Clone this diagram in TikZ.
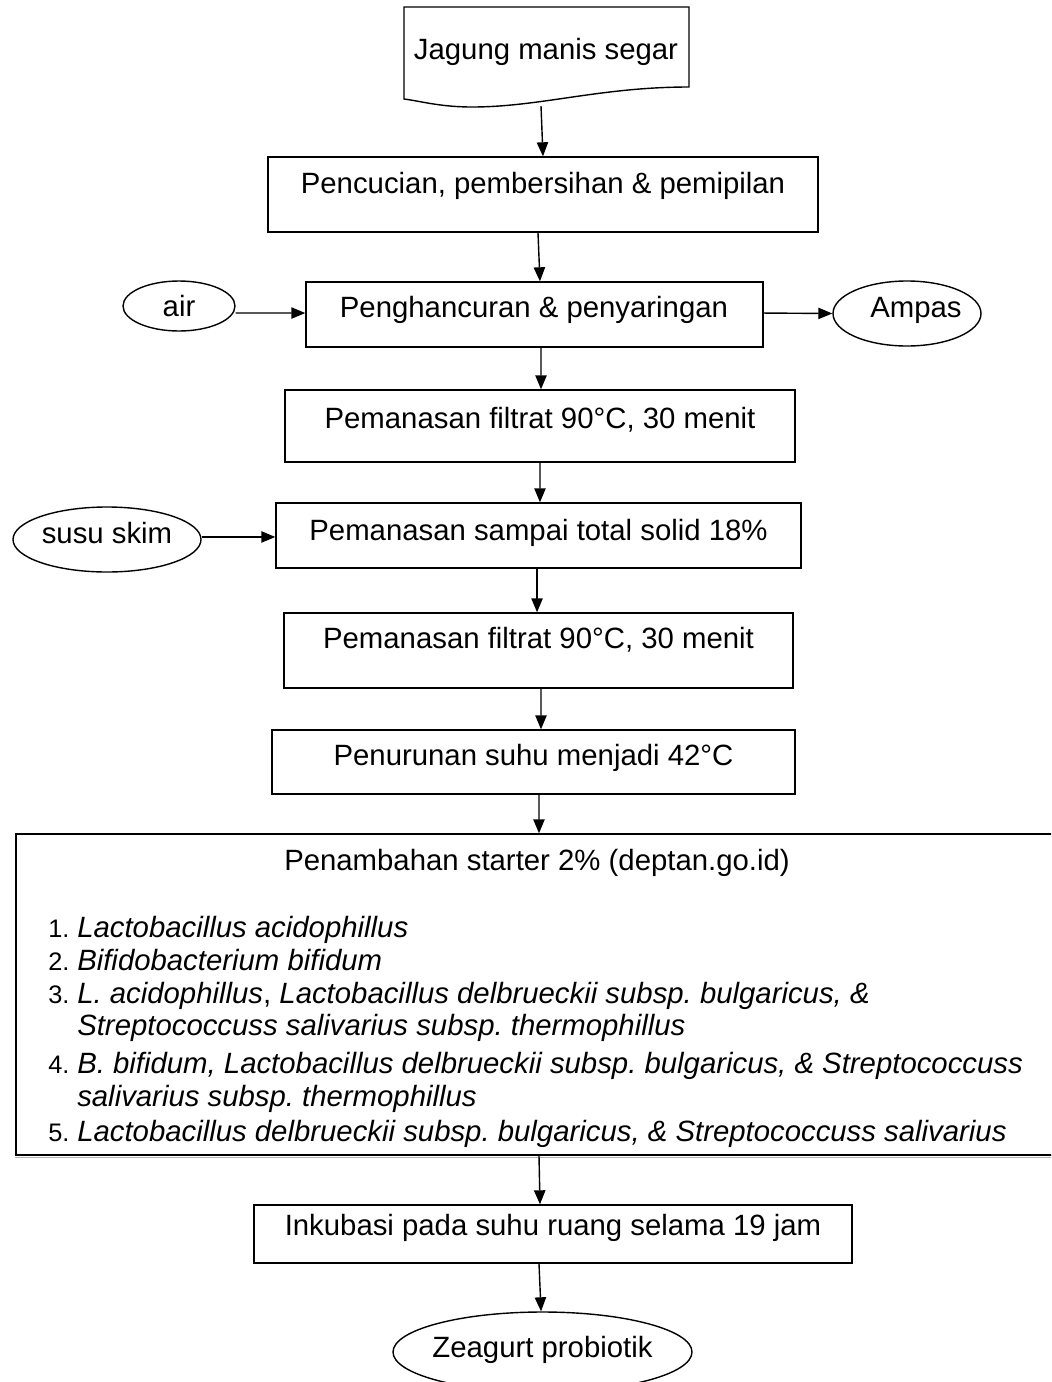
\documentclass[tikz,border=0pt]{standalone}
\usepackage{fontspec}
\setmainfont{Liberation Sans}
\usetikzlibrary{arrows.meta,shapes.geometric}
\frenchspacing
\begin{document}
\begin{tikzpicture}[x=0.75pt,y=-0.75pt,
  every node/.style={font=\fontsize{22}{26}\selectfont, inner sep=0pt},
  box/.style={draw, line width=1.05pt, rectangle},
  oval/.style={draw, line width=1.05pt, ellipse},
  flow/.style={-{Triangle[length=10.5pt,width=8.5pt]}, line width=1.05pt},
  num/.style={anchor=base west, font=\fontsize{19}{22}\selectfont},
  item/.style={anchor=base west, font=\fontsize{22}{26}\selectfont\itshape}]
\useasboundingbox (0,0) rectangle (1051,1382);
\clip (0,0) rectangle (1051,1382);

% raw material: document shape with wavy bottom
\draw[line width=1.05pt] (404,7) -- (689,7) -- (689,87)
  .. controls (600,87) and (540,107) .. (472,107)
  .. controls (440,107) and (420,101) .. (404,99) -- cycle;
\node (src) at (546,52) {Jagung manis segar};
\coordinate (srcB) at (541,106);

% process steps
\node[box, minimum width=550*0.75pt, minimum height=75*0.75pt] (b2) at (543,194.5) {};
\node (b2t) at (543,186) {Pencucian, pembersihan \& pemipilan};

\node[box, minimum width=457*0.75pt, minimum height=65*0.75pt] (b3) at (534.5,314.5) {};
\node (b3t) at (534,310) {Penghancuran \& penyaringan};

\node[oval, minimum width=112*0.75pt, minimum height=50*0.75pt] (air) at (179,306) {air};
\node[oval, minimum width=148*0.75pt, minimum height=65*0.75pt] (ampas) at (907,313.5) {};
\node (ampast) at (916,310) {Ampas};

\node[box, minimum width=510*0.75pt, minimum height=72*0.75pt] (b4) at (540,426) {};
\node (b4t) at (540,420) {Pemanasan filtrat 90°C, 30 menit};

\node[box, minimum width=525*0.75pt, minimum height=65*0.75pt] (b5) at (538.5,535.5) {};
\node (b5t) at (538.5,533) {Pemanasan sampai total solid 18\%};

\node[oval, minimum width=188*0.75pt, minimum height=65*0.75pt] (susu) at (107,539.5) {};
\node (susut) at (107,533) {susu skim};

\node[box, minimum width=509*0.75pt, minimum height=75*0.75pt] (b6) at (538.5,650.5) {};
\node (b6t) at (538.5,640) {Pemanasan filtrat 90°C, 30 menit};

\node[box, minimum width=523*0.75pt, minimum height=64*0.75pt] (b7) at (533.5,762) {};
\node (b7t) at (533.5,758) {Penurunan suhu menjadi 42°C};

% starter box (runs past the right margin)
\node[box, minimum width=1054*0.75pt, minimum height=321*0.75pt] (big) at (543,994.5) {};
\node (bigt) at (537,863) {Penambahan starter 2\% (deptan.go.id)};
\node[num] (n1) at (48,937) {1.};
\node[item] (i1) at (77,937) {Lactobacillus acidophillus};
\node[num] (n2) at (48,970) {2.};
\node[item] (i2) at (77,970) {Bifidobacterium bifidum};
\node[num] (n3) at (48,1003) {3.};
\node[item] (i3) at (77,1003) {L. acidophillus\upshape,\itshape\ Lactobacillus delbrueckii subsp. bulgaricus, \&};
\node[item] (i3b) at (77,1035) {Streptococcuss salivarius subsp. thermophillus};
\node[num] (n4) at (48,1073) {4.};
\node[item] (i4) at (77,1073) {B. bifidum, Lactobacillus delbrueckii subsp. bulgaricus, \& Streptococcuss};
\node[item] (i4b) at (77,1106) {salivarius subsp. thermophillus};
\node[num] (n5) at (48,1141) {5.};
\node[item] (i5) at (77,1141) {Lactobacillus delbrueckii subsp. bulgaricus, \& Streptococcuss salivarius};
% the box edge covers the descenders of the last line
\fill[white] (17,1155) rectangle (1051,1170);
\draw[line width=1.05pt] (big.south west) -- (big.south east);
\draw[line width=0.8pt, gray!60] ([yshift=-1.2pt]big.south west) -- ([yshift=-1.2pt]big.south east);

\node[box, minimum width=598*0.75pt, minimum height=58*0.75pt] (b9) at (553,1234) {};
\node (b9t) at (553,1228) {Inkubasi pada suhu ruang selama 19 jam};

\node[oval, minimum width=299*0.75pt, minimum height=80*0.75pt] (zea) at (542.5,1352) {};
\node (zeat) at (542.5,1350) {Zeagurt probiotik};

% connectors
\draw[flow] (srcB) -- (b2.north);
\draw[flow] ([xshift=-3.75pt]b2.south) -- ([xshift=4.1pt]b3.north);
\draw[flow] ([xshift=4.9pt]b3.south) -- ([xshift=0.75pt]b4.north);
\draw[flow] (b4.south) -- ([xshift=1.1pt]b5.north);
\draw[flow] ([xshift=-1.1pt]b5.south) -- ([xshift=-1.1pt]b6.north);
\draw[flow] ([xshift=1.9pt]b6.south) -- ([xshift=5.6pt]b7.north);
\draw[flow] ([xshift=4.1pt]b7.south) -- ([xshift=-3pt]big.north);
\draw[flow] ([xshift=-3pt]big.south) -- ([xshift=-9.75pt]b9.north);
\draw[flow] ([xshift=-10.5pt]b9.south) -- ([xshift=-1.1pt]zea.north);

\draw[flow] ([yshift=-5.25pt]air.east) -- ([yshift=1.1pt]b3.west);
\draw[flow] ([yshift=1.1pt]b3.east) -- (ampas.west);
\draw[flow] ([yshift=1.9pt]susu.east) -- ([yshift=-1.1pt]b5.west);
\end{tikzpicture}
\end{document}
